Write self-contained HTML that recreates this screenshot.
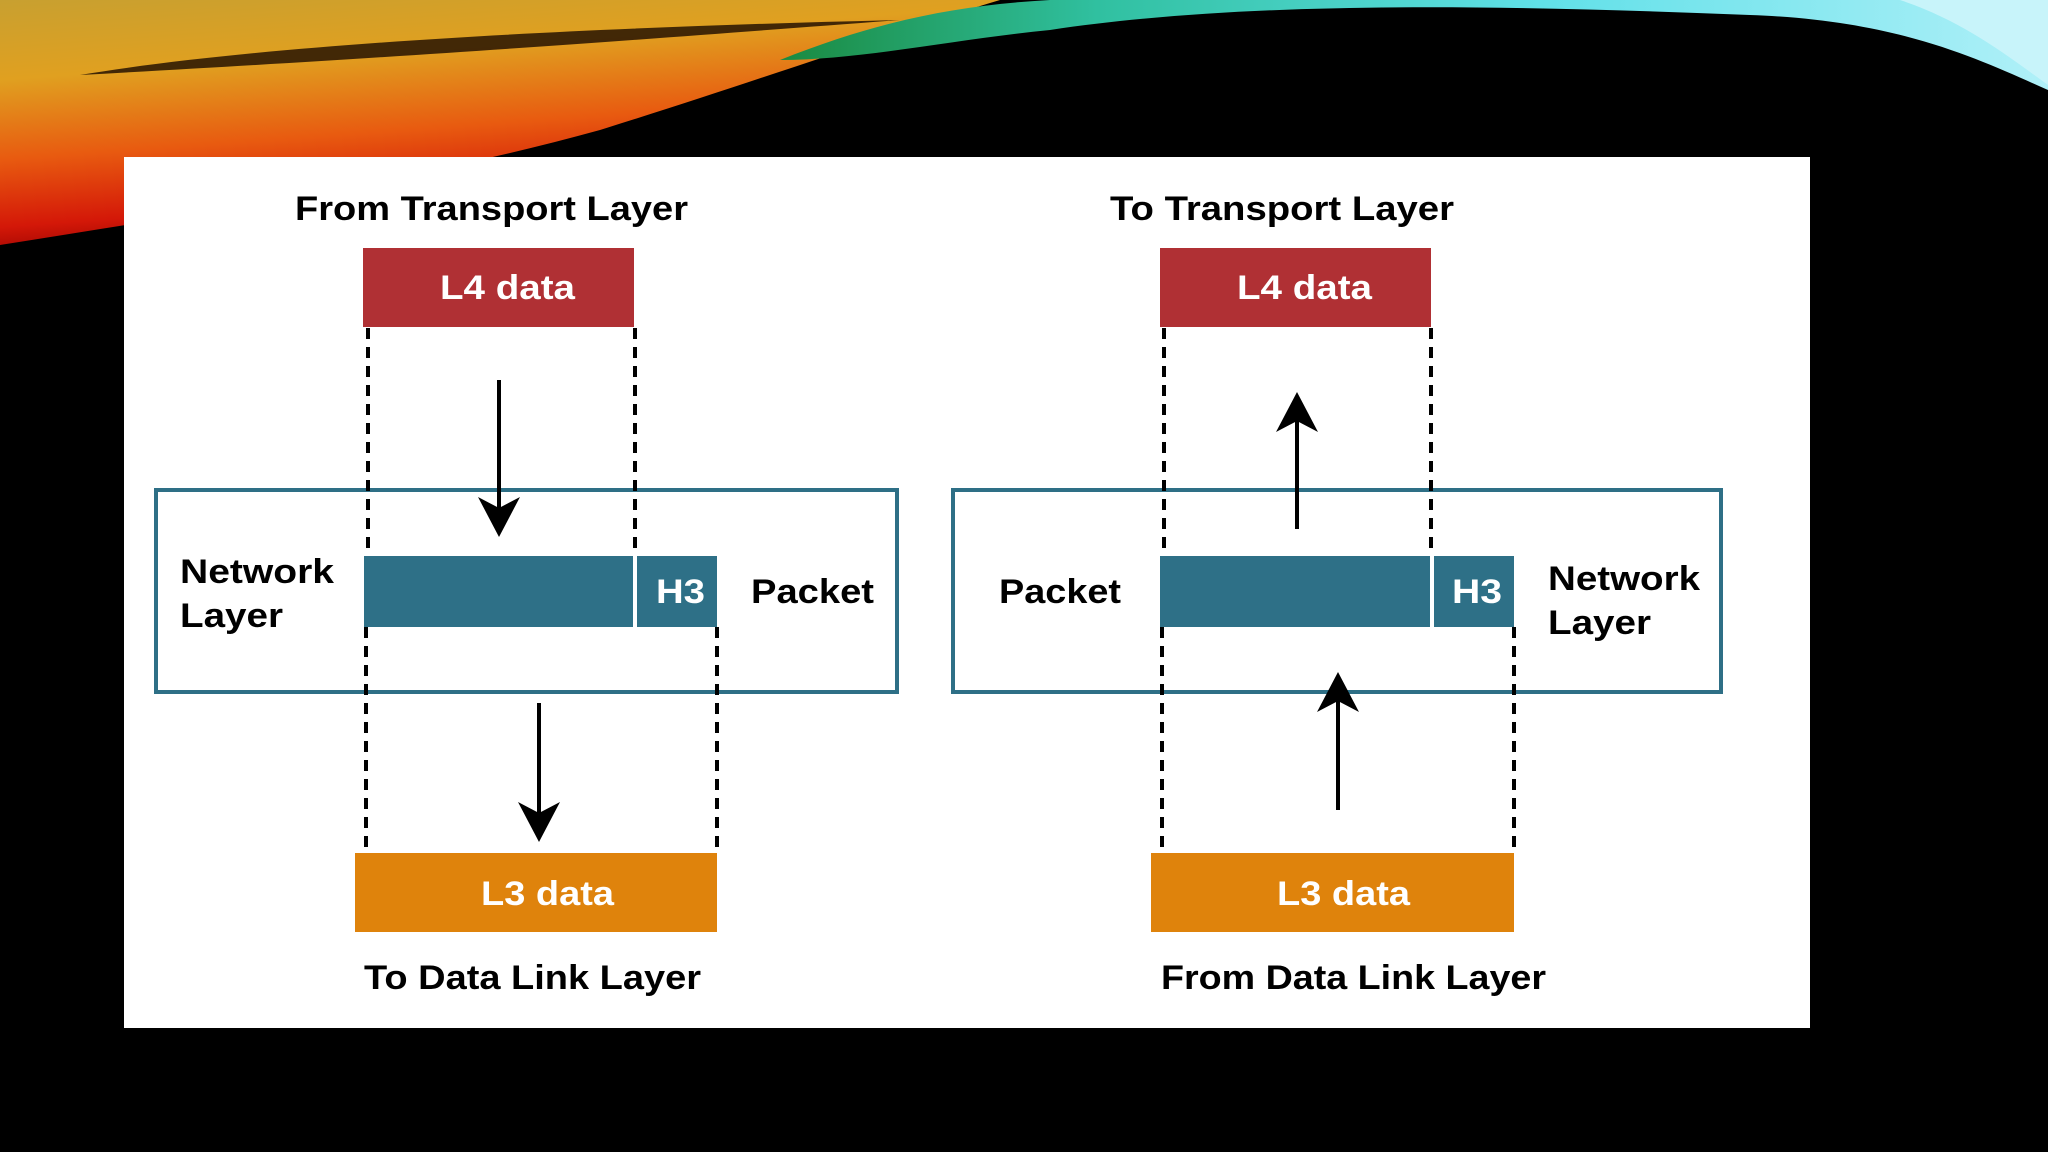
<!DOCTYPE html>
<html><head><meta charset="utf-8"><style>
html,body{margin:0;padding:0;background:#000;}
svg{display:block;}
text{font-family:"Liberation Sans",sans-serif;font-weight:bold;}
</style></head><body>
<svg width="2048" height="1152" viewBox="0 0 2048 1152" xmlns="http://www.w3.org/2000/svg">
<defs>
<linearGradient id="warm" x1="0" y1="0" x2="0.3" y2="1">
<stop offset="0" stop-color="#c8a030"/><stop offset="0.3" stop-color="#e0a020"/>
<stop offset="0.6" stop-color="#e85a10"/><stop offset="0.85" stop-color="#d41808"/><stop offset="1" stop-color="#900000"/>
</linearGradient>
<linearGradient id="cool" x1="0" y1="0" x2="1" y2="0">
<stop offset="0" stop-color="#1a8a40"/><stop offset="0.25" stop-color="#30c0a0"/>
<stop offset="0.6" stop-color="#60e0e8"/><stop offset="1" stop-color="#b0f0f8"/>
</linearGradient>
</defs>
<rect width="2048" height="1152" fill="#000"/>
<path d="M0,0 L1000,0 C900,30 760,80 600,130 C420,180 220,210 0,245 Z" fill="url(#warm)"/>
<path d="M80,75 C260,45 560,28 900,20 C700,35 450,55 80,75 Z" fill="#1a0a00" opacity="0.8"/>
<path d="M780,60 C880,20 960,5 1050,0 L2048,0 L2048,90 C1980,60 1900,20 1750,15 C1500,5 1250,0 1050,30 C950,40 860,60 780,60 Z" fill="url(#cool)"/>
<path d="M1900,0 L2048,0 L2048,85 C2000,50 1960,20 1900,0 Z" fill="#c8f4fa"/>
<rect x="124" y="157" width="1686" height="871" fill="#fff"/>

<g fill="#000" font-size="34">
<text x="295" y="220" textLength="393" lengthAdjust="spacingAndGlyphs">From Transport Layer</text>
<text x="1110" y="220" textLength="344" lengthAdjust="spacingAndGlyphs">To Transport Layer</text>
<text x="364" y="989" textLength="337" lengthAdjust="spacingAndGlyphs">To Data Link Layer</text>
<text x="1161" y="989" textLength="385" lengthAdjust="spacingAndGlyphs">From Data Link Layer</text>
</g>

<rect x="156" y="490" width="741" height="202" fill="none" stroke="#2e6f86" stroke-width="4"/>
<rect x="363" y="248" width="271" height="79" fill="#b03034"/>
<rect x="364" y="556" width="353" height="71" fill="#2e7087"/>
<line x1="635" y1="556" x2="635" y2="627" stroke="#fff" stroke-width="4"/>
<rect x="355" y="853" width="362" height="79" fill="#df830c"/>
<g stroke="#000" stroke-width="4" stroke-dasharray="11,8">
<line x1="368" y1="328" x2="368" y2="556"/>
<line x1="635" y1="328" x2="635" y2="556"/>
<line x1="366" y1="627" x2="366" y2="853"/>
<line x1="717" y1="627" x2="717" y2="853"/>
</g>
<line x1="499" y1="380" x2="499" y2="515" stroke="#000" stroke-width="4"/>
<path d="M478,497 L499,508 L520,497 L499,537 Z" fill="#000"/>
<line x1="539" y1="703" x2="539" y2="818" stroke="#000" stroke-width="4"/>
<path d="M518,802 L539,813 L560,802 L539,842 Z" fill="#000"/>
<g fill="#fff" font-size="34">
<text x="440" y="299" textLength="135" lengthAdjust="spacingAndGlyphs">L4 data</text>
<text x="656" y="603" textLength="49" lengthAdjust="spacingAndGlyphs">H3</text>
<text x="481" y="905" textLength="133" lengthAdjust="spacingAndGlyphs">L3 data</text>
</g>
<g fill="#000" font-size="34">
<text x="180" y="583" textLength="154" lengthAdjust="spacingAndGlyphs">Network</text>
<text x="180" y="627" textLength="103" lengthAdjust="spacingAndGlyphs">Layer</text>
<text x="751" y="603" textLength="123" lengthAdjust="spacingAndGlyphs">Packet</text>
</g>

<rect x="953" y="490" width="768" height="202" fill="none" stroke="#2e6f86" stroke-width="4"/>
<rect x="1160" y="248" width="271" height="79" fill="#b03034"/>
<rect x="1160" y="556" width="354" height="71" fill="#2e7087"/>
<line x1="1432" y1="556" x2="1432" y2="627" stroke="#fff" stroke-width="4"/>
<rect x="1151" y="853" width="363" height="79" fill="#df830c"/>
<g stroke="#000" stroke-width="4" stroke-dasharray="11,8">
<line x1="1164" y1="328" x2="1164" y2="556"/>
<line x1="1431" y1="328" x2="1431" y2="556"/>
<line x1="1162" y1="627" x2="1162" y2="853"/>
<line x1="1514" y1="627" x2="1514" y2="853"/>
</g>
<line x1="1297" y1="529" x2="1297" y2="412" stroke="#000" stroke-width="4"/>
<path d="M1276,432 L1297,421 L1318,432 L1297,392 Z" fill="#000"/>
<line x1="1338" y1="810" x2="1338" y2="692" stroke="#000" stroke-width="4"/>
<path d="M1317,712 L1338,701 L1359,712 L1338,672 Z" fill="#000"/>
<g fill="#fff" font-size="34">
<text x="1237" y="299" textLength="135" lengthAdjust="spacingAndGlyphs">L4 data</text>
<text x="1452" y="603" textLength="50" lengthAdjust="spacingAndGlyphs">H3</text>
<text x="1277" y="905" textLength="133" lengthAdjust="spacingAndGlyphs">L3 data</text>
</g>
<g fill="#000" font-size="34">
<text x="999" y="603" textLength="122" lengthAdjust="spacingAndGlyphs">Packet</text>
<text x="1548" y="590" textLength="152" lengthAdjust="spacingAndGlyphs">Network</text>
<text x="1548" y="634" textLength="103" lengthAdjust="spacingAndGlyphs">Layer</text>
</g>
</svg>
</body></html>
